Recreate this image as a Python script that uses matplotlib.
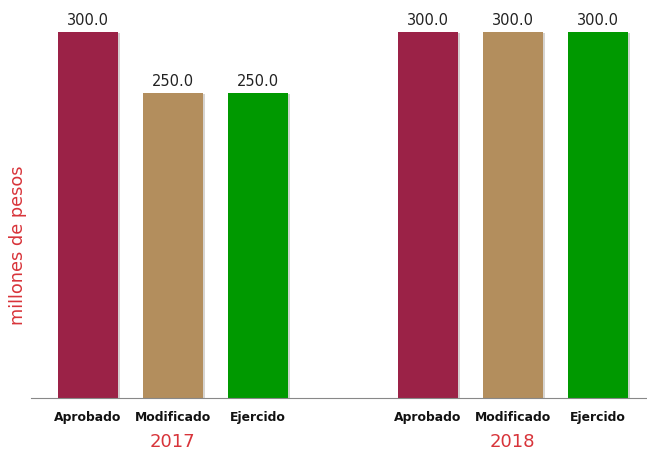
import matplotlib
matplotlib.use("Agg")
import matplotlib.pyplot as plt
import matplotlib.patheffects as pe

years = ["2017", "2018"]
categories = ["Aprobado", "Modificado", "Ejercido"]
values_2017 = [300.0, 250.0, 250.0]
values_2018 = [300.0, 300.0, 300.0]
colors = ["#9B2247", "#B38E5D", "#009900"]

fig = plt.figure(figsize=(6.47, 4.52), dpi=100)
ax = fig.add_axes([31/647, 53/452, 616/647, 399/452])

positions = []
labels = []
for gi, vals in enumerate([values_2017, values_2018]):
    for ci, v in enumerate(vals):
        x = gi * 4 + ci
        positions.append(x)
        labels.append(categories[ci])
        ax.bar(x, v, width=0.706, color=colors[ci],
               path_effects=[pe.SimplePatchShadow(offset=(1.5, -1), alpha=0.2), pe.Normal()])
        ax.text(x, v + 4, f"{v:.1f}", ha="center", va="bottom",
                fontsize=10.5, color="#222222", family="DejaVu Sans")

ax.set_xlim(-0.67, 6.58)
ax.set_ylim(0, 300 * 399 / 366)
ax.set_xticks(positions)
ax.set_xticklabels(labels, fontsize=8.9, fontweight="bold", family="DejaVu Sans",
                   color="#111111")
ax.tick_params(axis="x", length=0, pad=9)
ax.set_yticks([])
for s in ["top", "right", "left"]:
    ax.spines[s].set_visible(False)
ax.spines["bottom"].set_color("#888888")

for gi, yr in enumerate(years):
    ax.text(gi * 4 + 1, -0.108 * 327, yr, ha="center", va="center",
            fontsize=13, color="#D8343A", family="DejaVu Sans",
            transform=ax.transData, clip_on=False)

fig.text(18/647, 1 - 245/452, "millones de pesos", rotation=90, ha="center",
         va="center", fontsize=12.8, color="#D8343A", family="DejaVu Sans")

fig.savefig("out.png", dpi=100)
